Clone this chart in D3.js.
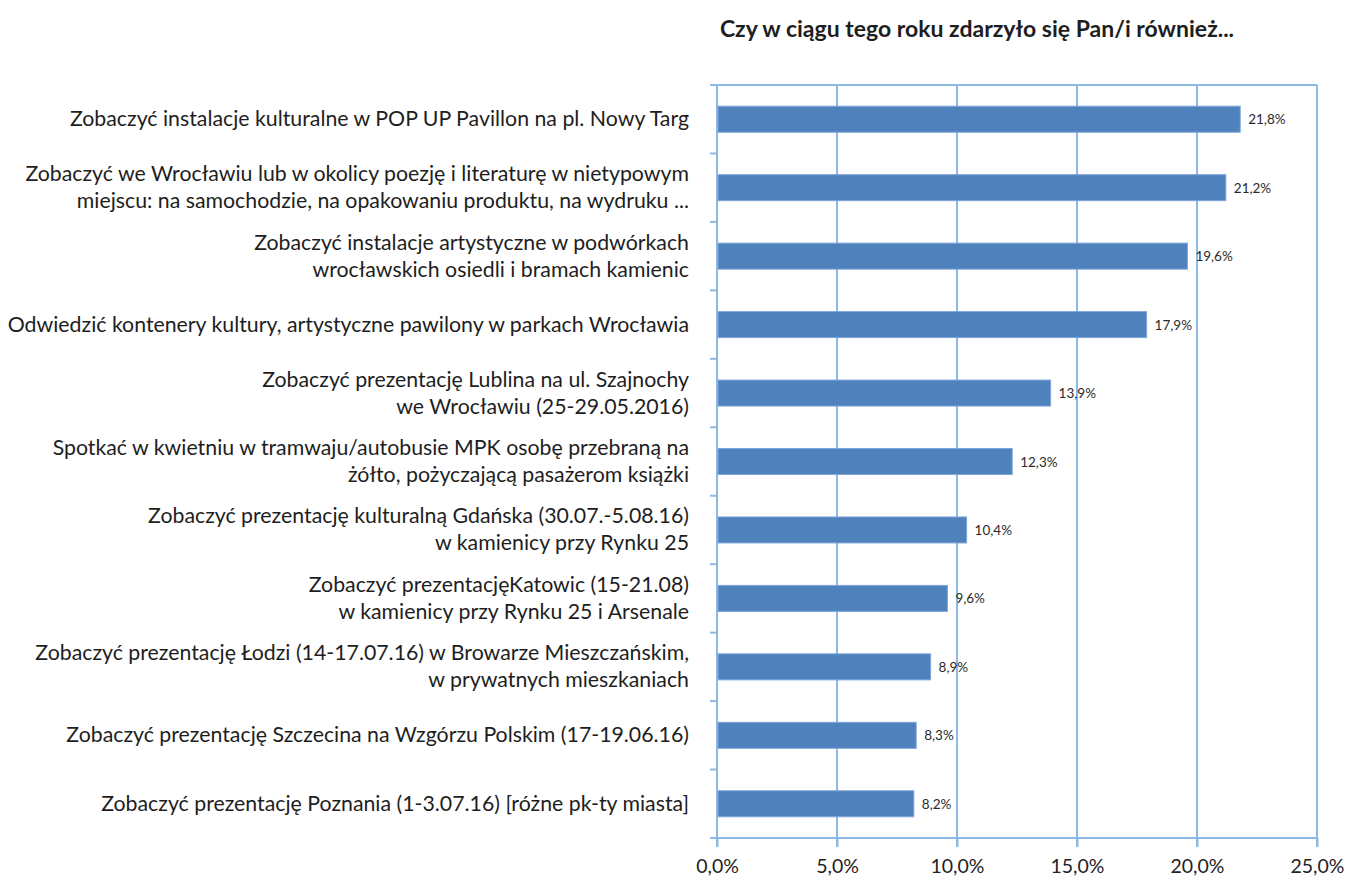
<!DOCTYPE html>
<html><head><meta charset="utf-8">
<script src="https://cdn.jsdelivr.net/npm/d3@7"></script>
<style>
html,body{margin:0;padding:0;background:#fff;}
svg{display:block;font-family:Lato,"Open Sans",sans-serif;}
</style></head>
<body>
<svg id="chart" width="1355" height="884"></svg>
<script>
const title = "Czy w ciągu tego roku zdarzyło się Pan/i również...";
const categories = [
  ["Zobaczyć instalacje kulturalne w POP UP Pavillon na pl. Nowy Targ"],
  ["Zobaczyć we Wrocławiu lub w okolicy poezję i literaturę w nietypowym", "miejscu: na samochodzie, na opakowaniu produktu, na wydruku ..."],
  ["Zobaczyć instalacje artystyczne w podwórkach", "wrocławskich osiedli i bramach kamienic"],
  ["Odwiedzić kontenery kultury, artystyczne pawilony w parkach Wrocławia"],
  ["Zobaczyć prezentację Lublina na ul. Szajnochy", "we Wrocławiu (25-29.05.2016)"],
  ["Spotkać w kwietniu w tramwaju/autobusie MPK osobę przebraną na", "żółto, pożyczającą pasażerom książki"],
  ["Zobaczyć prezentację kulturalną Gdańska (30.07.-5.08.16)", "w kamienicy przy Rynku 25"],
  ["Zobaczyć prezentacjęKatowic (15-21.08)", "w kamienicy przy Rynku 25 i Arsenale"],
  ["Zobaczyć prezentację Łodzi (14-17.07.16) w Browarze Mieszczańskim,", "w prywatnych mieszkaniach"],
  ["Zobaczyć prezentację Szczecina na Wzgórzu Polskim (17-19.06.16)"],
  ["Zobaczyć prezentację Poznania (1-3.07.16) [różne pk-ty miasta]"]
];
const values = [21.8, 21.2, 19.6, 17.9, 13.9, 12.3, 10.4, 9.6, 8.9, 8.3, 8.2];
const xTicks = [0, 5, 10, 15, 20, 25];

const svg = d3.select("#chart");
const pL = 717, pR = 1317, pT = 85, pB = 838;
const fmt = v => v.toFixed(1).replace(".", ",") + "%";
const gridColor = "#8db9e6";

const x = d3.scaleLinear().domain([0, 25]).range([pL, pR]);
const idx = categories.map((d, i) => i);
const y = d3.scaleBand().domain(idx).range([pT, pB]).paddingInner(0.62).paddingOuter(0.31);

svg.append("text").attr("x", 977).attr("y", 37).attr("text-anchor", "middle")
  .attr("font-size", 23).attr("font-weight", 700).attr("fill", "#1e1e1e").text(title);

svg.append("g").selectAll("line").data(xTicks.slice(1)).join("line")
  .attr("x1", d => x(d)).attr("x2", d => x(d)).attr("y1", pT).attr("y2", pB + 9)
  .attr("stroke", gridColor).attr("stroke-width", 2);

svg.append("line").attr("x1", pL - 7).attr("x2", pR).attr("y1", pT).attr("y2", pT)
  .attr("stroke", gridColor).attr("stroke-width", 2);

const xAxis = svg.append("g").attr("transform", `translate(0,${pB})`)
  .call(d3.axisBottom(x).tickValues(xTicks).tickFormat(d => d.toFixed(1).replace(".", ",") + "%").tickSize(9).tickSizeOuter(0).tickPadding(12));
xAxis.select(".domain").attr("stroke", gridColor).attr("stroke-width", 2).attr("d", `M${pL - 7},0H${pR}`);
xAxis.selectAll(".tick line").attr("stroke", gridColor).attr("stroke-width", 2);
xAxis.selectAll(".tick text").attr("font-size", 19.5).attr("fill", "#222").attr("font-family", "Lato, sans-serif");

const bandEdges = d3.range(categories.length + 1).map(i => pT + i * y.step());
svg.append("line").attr("x1", pL).attr("x2", pL).attr("y1", pT).attr("y2", pB + 9)
  .attr("stroke", gridColor).attr("stroke-width", 2);
svg.append("g").selectAll("line").data(bandEdges).join("line")
  .attr("x1", pL - 7).attr("x2", pL).attr("y1", d => d).attr("y2", d => d)
  .attr("stroke", gridColor).attr("stroke-width", 2);

svg.append("g").selectAll("rect").data(values).join("rect")
  .attr("x", x(0) + 1).attr("y", (d, i) => y(i))
  .attr("width", d => x(d) - x(0) - 1).attr("height", y.bandwidth())
  .attr("fill", "#4f81bd").attr("stroke", "#7ea6d8").attr("stroke-width", 1);

svg.append("g").selectAll("text").data(values).join("text")
  .attr("x", d => x(d) + 8).attr("y", (d, i) => y(i) + y.bandwidth() / 2 + 5)
  .attr("font-size", 13.5).attr("fill", "#2a2a2a").text(d => fmt(d));

const lab = svg.append("g").selectAll("text").data(categories).join("text")
  .attr("text-anchor", "end").attr("font-size", 21.3).attr("fill", "#1e1e1e");
lab.each(function(lines, i) {
  const cy = y(i) + y.bandwidth() / 2;
  const lh = 27;
  const y0 = cy - (lines.length - 1) * lh / 2 + 7;
  d3.select(this).selectAll("tspan").data(lines).join("tspan")
    .attr("x", 689).attr("y", (d, j) => y0 + j * lh).text(d => d);
});
</script>
</body></html>
